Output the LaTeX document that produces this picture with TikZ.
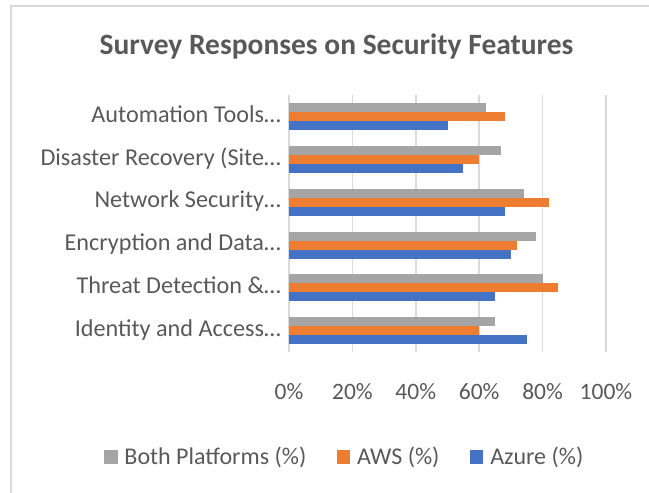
\documentclass[tikz,border=0pt]{standalone}
\usepackage{fontspec}
\setmainfont{Carlito}
\usetikzlibrary{positioning}
\definecolor{azure}{HTML}{4472C4}
\definecolor{aws}{HTML}{ED7D31}
\definecolor{both}{HTML}{A5A5A5}
\definecolor{gridgray}{HTML}{D9D9D9}
\definecolor{txtgray}{HTML}{595959}

\begin{document}
\begin{tikzpicture}[x=1pt, y=-1pt,
    catlabel/.style={font=\fontsize{24.2}{28}\selectfont, text=txtgray, inner sep=0pt, anchor=base east},
    ticklabel/.style={font=\fontsize{23.5}{28}\selectfont, text=txtgray, inner sep=0pt, anchor=base},
    legsquare/.style={minimum size=13.5pt, inner sep=0pt},
    legtext/.style={font=\fontsize{24}{28}\selectfont, text=txtgray, inner sep=0pt}]
    \useasboundingbox (0,0) rectangle (649,493);
    % chart frame
    \draw[gridgray, line width=2pt] (11,493) -- (11,6) -- (649,6);

    \node[font=\bfseries\fontsize{29.5}{34}\selectfont, text=txtgray, inner sep=0pt, anchor=base] (title) at (336.5, 54) {Survey Responses on Security Features};

    % category labels
    \node[catlabel] (auto) at (281, 122.3) {Automation Tools…};
    \node[catlabel] (disaster) at (281, 165.1) {Disaster Recovery (Site…};
    \node[catlabel] (network) at (281, 207.9) {Network Security…};
    \node[catlabel] (encrypt) at (281, 250.7) {Encryption and Data…};
    \node[catlabel] (threat) at (281, 293.5) {Threat Detection \&…};
    \node[catlabel] (identity) at (281, 336.3) {Identity and Access…};

    \begin{scope}[shift={(289,0)}, x=3.17pt]
        % gridlines
        \draw[gridgray, line width=1.5pt] (0,95) -- (0,352);
        \draw[gridgray, line width=1.5pt] (20,95) -- (20,352);
        \draw[gridgray, line width=1.5pt] (40,95) -- (40,352);
        \draw[gridgray, line width=1.5pt] (60,95) -- (60,352);
        \draw[gridgray, line width=1.5pt] (80,95) -- (80,352);
        \draw[gridgray, line width=1.5pt] (100,95) -- (100,352);

        % bars: both, aws, azure
        \fill[both] (0,103.2) rectangle (62,112.2);
        \fill[aws] (0,112.2) rectangle (68,121.2);
        \fill[azure] (0,121.2) rectangle (50,130.2);

        \fill[both] (0,146.0) rectangle (67,155.0);
        \fill[aws] (0,155.0) rectangle (60,164.0);
        \fill[azure] (0,164.0) rectangle (55,173.0);

        \fill[both] (0,188.8) rectangle (74,197.8);
        \fill[aws] (0,197.8) rectangle (82,206.8);
        \fill[azure] (0,206.8) rectangle (68,215.8);

        \fill[both] (0,231.6) rectangle (78,240.6);
        \fill[aws] (0,240.6) rectangle (72,249.6);
        \fill[azure] (0,249.6) rectangle (70,258.6);

        \fill[both] (0,274.4) rectangle (80,283.4);
        \fill[aws] (0,283.4) rectangle (85,292.4);
        \fill[azure] (0,292.4) rectangle (65,301.4);

        \fill[both] (0,317.2) rectangle (65,326.2);
        \fill[aws] (0,326.2) rectangle (60,335.2);
        \fill[azure] (0,335.2) rectangle (75,344.2);

        % axis ticks
        \node[ticklabel] (t0) at (0,399.3) {0\%};
        \node[ticklabel] (t20) at (20,399.3) {20\%};
        \node[ticklabel] (t40) at (40,399.3) {40\%};
        \node[ticklabel] (t60) at (60,399.3) {60\%};
        \node[ticklabel] (t80) at (80,399.3) {80\%};
        \node[ticklabel] (t100) at (100,399.3) {100\%};
    \end{scope}

    % legend
    \node[legsquare, fill=both] (sqboth) at (110.8,457.2) {};
    \node[legtext, right=6.5pt of sqboth] (lgboth) {Both Platforms (\%)};
    \node[legsquare, fill=aws, right=30pt of lgboth] (sqaws) {};
    \node[legtext, right=6.5pt of sqaws] (lgaws) {AWS (\%)};
    \node[legsquare, fill=azure, right=30pt of lgaws] (sqazure) {};
    \node[legtext, right=6.5pt of sqazure] (lgazure) {Azure (\%)};
\end{tikzpicture}
\end{document}
